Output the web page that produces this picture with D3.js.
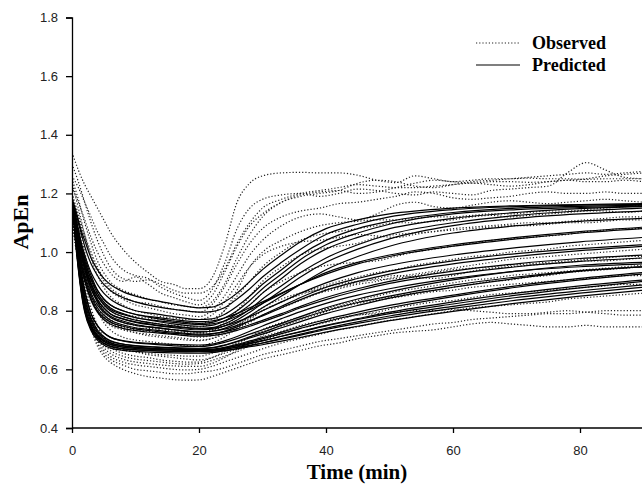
<!DOCTYPE html>
<html><head><meta charset="utf-8">
<script src="https://cdn.jsdelivr.net/npm/d3@7/dist/d3.min.js"></script>
<style>body{margin:0;background:#fff}svg{display:block}</style>
</head><body><svg id="c" width="642" height="485"></svg>
<script>
// ---- data ----
const xTicks = [0, 20, 40, 60, 80];
const yTicks = [0.4, 0.6, 0.8, 1.0, 1.2, 1.4, 1.6, 1.8];
const legendLabels = ["Observed", "Predicted"];

const predTimes = [0,0.5,1,1.5,2,3,4,5,6,8,10,13,16,20,22,24,26,28,30,33,36,40,45,50,60,70,80,90];
const predicted = [
 [1.18,1.15,1.11,1.07,1.04,0.98,0.94,0.91,0.89,0.865,0.85,0.835,0.823,0.81,0.812,0.83,0.86,0.90,0.94,0.99,1.035,1.08,1.11,1.13,1.15,1.158,1.162,1.165],
 [1.18,1.14,1.10,1.06,1.02,0.96,0.92,0.89,0.87,0.845,0.83,0.815,0.805,0.795,0.797,0.81,0.84,0.875,0.915,0.965,1.01,1.06,1.095,1.12,1.145,1.155,1.16,1.162],
 [1.18,1.13,1.08,1.03,0.99,0.93,0.89,0.86,0.84,0.815,0.80,0.79,0.78,0.77,0.772,0.787,0.815,0.85,0.89,0.94,0.99,1.04,1.08,1.105,1.135,1.15,1.156,1.16],
 [1.18,1.13,1.07,1.02,0.98,0.92,0.87,0.84,0.82,0.80,0.787,0.775,0.765,0.757,0.76,0.775,0.80,0.835,0.875,0.925,0.975,1.025,1.065,1.095,1.13,1.145,1.152,1.157],
 [1.18,1.12,1.06,1.01,0.97,0.905,0.86,0.83,0.81,0.79,0.777,0.765,0.755,0.747,0.75,0.765,0.79,0.82,0.86,0.91,0.96,1.01,1.05,1.08,1.115,1.135,1.148,1.155],
 [1.18,1.12,1.05,1.00,0.96,0.895,0.85,0.82,0.80,0.78,0.768,0.757,0.748,0.74,0.742,0.755,0.777,0.805,0.84,0.885,0.93,0.98,1.025,1.06,1.10,1.125,1.14,1.15],
 [1.18,1.11,1.04,0.99,0.95,0.885,0.84,0.81,0.79,0.772,0.76,0.75,0.742,0.735,0.737,0.748,0.768,0.795,0.825,0.87,0.915,0.965,1.01,1.045,1.09,1.115,1.13,1.14],
 [1.18,1.11,1.04,0.985,0.94,0.875,0.83,0.80,0.782,0.765,0.753,0.743,0.735,0.728,0.73,0.74,0.758,0.783,0.81,0.85,0.89,0.94,0.985,1.02,1.065,1.09,1.105,1.115],
 [1.18,1.12,1.06,1.01,0.97,0.91,0.87,0.84,0.82,0.80,0.788,0.778,0.77,0.763,0.765,0.775,0.79,0.81,0.83,0.86,0.89,0.925,0.96,0.985,1.02,1.045,1.065,1.08],
 [1.18,1.11,1.04,0.985,0.94,0.875,0.835,0.81,0.79,0.772,0.762,0.752,0.745,0.738,0.74,0.748,0.762,0.78,0.80,0.83,0.86,0.895,0.93,0.955,0.99,1.015,1.035,1.05],
 [1.18,1.10,1.03,0.97,0.925,0.86,0.82,0.795,0.778,0.76,0.75,0.742,0.735,0.728,0.73,0.737,0.75,0.765,0.782,0.81,0.838,0.87,0.90,0.925,0.96,0.985,1.005,1.02],
 [1.18,1.10,1.02,0.96,0.915,0.85,0.81,0.785,0.768,0.752,0.742,0.734,0.727,0.72,0.722,0.728,0.738,0.752,0.767,0.79,0.815,0.845,0.875,0.90,0.935,0.96,0.978,0.99],
 [1.18,1.09,1.01,0.95,0.905,0.84,0.80,0.777,0.762,0.747,0.738,0.73,0.723,0.717,0.72,0.73,0.745,0.765,0.785,0.815,0.845,0.88,0.91,0.935,0.97,0.995,1.012,1.025],
 [1.18,1.11,1.05,1.00,0.955,0.89,0.85,0.825,0.805,0.787,0.776,0.767,0.76,0.753,0.755,0.765,0.782,0.803,0.825,0.858,0.89,0.93,0.965,0.99,1.025,1.05,1.07,1.085],
 [1.18,1.09,1.01,0.945,0.90,0.835,0.795,0.77,0.755,0.74,0.732,0.725,0.719,0.713,0.715,0.722,0.733,0.747,0.762,0.785,0.81,0.838,0.868,0.893,0.925,0.95,0.968,0.98],
 [1.18,1.10,1.01,0.93,0.87,0.79,0.75,0.725,0.71,0.697,0.69,0.685,0.68,0.678,0.682,0.692,0.705,0.72,0.735,0.757,0.78,0.81,0.84,0.865,0.905,0.935,0.955,0.965],
 [1.18,1.09,0.99,0.91,0.85,0.775,0.735,0.712,0.698,0.686,0.68,0.676,0.672,0.67,0.673,0.682,0.694,0.707,0.72,0.742,0.763,0.79,0.818,0.843,0.88,0.91,0.935,0.95],
 [1.18,1.08,0.97,0.89,0.83,0.76,0.725,0.705,0.692,0.68,0.675,0.671,0.668,0.666,0.668,0.675,0.685,0.697,0.708,0.727,0.746,0.77,0.795,0.818,0.853,0.885,0.91,0.93],
 [1.18,1.07,0.96,0.875,0.815,0.748,0.715,0.697,0.686,0.676,0.671,0.668,0.665,0.663,0.665,0.672,0.682,0.693,0.704,0.722,0.74,0.763,0.788,0.81,0.848,0.88,0.905,0.925],
 [1.18,1.06,0.95,0.865,0.805,0.74,0.708,0.69,0.68,0.671,0.667,0.664,0.661,0.66,0.662,0.668,0.677,0.687,0.697,0.713,0.729,0.75,0.773,0.795,0.83,0.86,0.885,0.905],
 [1.18,1.07,0.965,0.88,0.82,0.752,0.718,0.70,0.69,0.681,0.676,0.672,0.669,0.667,0.668,0.673,0.68,0.689,0.698,0.713,0.728,0.748,0.77,0.79,0.823,0.853,0.878,0.90],
 [1.18,1.05,0.94,0.855,0.795,0.732,0.70,0.683,0.673,0.665,0.661,0.658,0.656,0.655,0.657,0.663,0.671,0.68,0.69,0.705,0.72,0.74,0.762,0.782,0.815,0.845,0.868,0.888],
 [1.18,1.06,0.955,0.87,0.81,0.745,0.712,0.695,0.685,0.676,0.672,0.668,0.666,0.664,0.665,0.669,0.675,0.682,0.69,0.703,0.717,0.736,0.757,0.776,0.808,0.836,0.86,0.88],
 [1.18,1.09,1.00,0.925,0.865,0.79,0.748,0.725,0.71,0.698,0.692,0.688,0.685,0.683,0.686,0.697,0.712,0.73,0.748,0.773,0.797,0.825,0.853,0.875,0.91,0.935,0.95,0.96],
 [1.18,1.05,0.945,0.86,0.80,0.737,0.705,0.688,0.678,0.67,0.666,0.663,0.661,0.66,0.661,0.665,0.67,0.677,0.684,0.696,0.709,0.727,0.747,0.766,0.798,0.826,0.85,0.87],
 [1.18,1.08,0.98,0.90,0.84,0.768,0.73,0.71,0.697,0.686,0.681,0.677,0.674,0.672,0.674,0.683,0.696,0.711,0.726,0.75,0.773,0.80,0.828,0.85,0.887,0.915,0.937,0.95]
];

const obsTimes = [0,1,2,3,4,5,6,8,10,12,14,16,18,20,22,24,26,28,30,33,36,39,42,45,48,51,54,57,60,63,66,69,72,75,78,81,84,87,90];
const observed = [
 [1.34,1.28,1.23,1.19,1.15,1.11,1.07,1.01,0.965,0.93,0.90,0.89,0.875,0.875,0.91,1.02,1.17,1.235,1.26,1.27,1.272,1.27,1.27,1.262,1.245,1.237,1.26,1.25,1.24,1.245,1.25,1.25,1.252,1.25,1.25,1.248,1.25,1.25,1.25],
 [1.26,1.22,1.17,1.12,1.07,1.03,0.99,0.94,0.92,0.91,0.88,0.86,0.845,0.835,0.87,0.96,1.08,1.15,1.18,1.195,1.20,1.19,1.20,1.215,1.21,1.20,1.195,1.205,1.20,1.195,1.21,1.215,1.22,1.225,1.27,1.305,1.28,1.255,1.25],
 [1.22,1.17,1.11,1.05,1.00,0.96,0.93,0.90,0.915,0.89,0.86,0.845,0.83,0.82,0.85,0.93,1.02,1.09,1.13,1.17,1.19,1.20,1.21,1.235,1.245,1.24,1.225,1.22,1.23,1.24,1.245,1.25,1.255,1.26,1.265,1.27,1.265,1.27,1.275],
 [1.20,1.13,1.06,1.00,0.95,0.91,0.88,0.85,0.83,0.825,0.815,0.805,0.80,0.795,0.82,0.88,0.96,1.03,1.08,1.12,1.14,1.15,1.165,1.17,1.18,1.19,1.205,1.20,1.185,1.18,1.185,1.19,1.20,1.205,1.20,1.20,1.205,1.20,1.20],
 [1.19,1.12,1.05,0.99,0.94,0.90,0.87,0.84,0.82,0.81,0.80,0.79,0.785,0.78,0.80,0.85,0.92,0.99,1.04,1.09,1.12,1.13,1.12,1.11,1.13,1.16,1.17,1.155,1.15,1.16,1.17,1.175,1.17,1.165,1.17,1.175,1.18,1.175,1.17],
 [1.25,1.18,1.10,1.03,0.97,0.93,0.90,0.87,0.855,0.84,0.83,0.82,0.815,0.81,0.83,0.89,0.98,1.06,1.12,1.17,1.195,1.205,1.21,1.20,1.205,1.22,1.235,1.245,1.24,1.235,1.24,1.24,1.238,1.24,1.245,1.24,1.24,1.245,1.24],
 [1.17,1.07,0.98,0.91,0.86,0.83,0.81,0.79,0.78,0.775,0.77,0.765,0.76,0.755,0.77,0.80,0.85,0.90,0.95,1.00,1.04,1.06,1.07,1.08,1.09,1.10,1.10,1.105,1.11,1.12,1.125,1.12,1.125,1.13,1.135,1.14,1.14,1.135,1.14],
 [1.16,1.05,0.96,0.89,0.84,0.80,0.78,0.76,0.75,0.745,0.74,0.735,0.73,0.725,0.735,0.76,0.80,0.85,0.90,0.95,0.99,1.01,1.02,1.03,1.05,1.06,1.065,1.07,1.08,1.085,1.09,1.095,1.10,1.10,1.105,1.11,1.115,1.12,1.12],
 [1.15,1.04,0.95,0.88,0.83,0.79,0.77,0.75,0.74,0.74,0.735,0.73,0.725,0.72,0.73,0.75,0.78,0.82,0.86,0.90,0.93,0.95,0.96,0.965,0.97,0.985,1.00,1.01,1.02,1.03,1.04,1.045,1.05,1.055,1.06,1.07,1.075,1.08,1.08],
 [1.14,1.02,0.93,0.86,0.81,0.78,0.76,0.745,0.735,0.73,0.725,0.72,0.715,0.71,0.715,0.73,0.75,0.775,0.80,0.83,0.86,0.88,0.90,0.915,0.93,0.94,0.955,0.965,0.975,0.985,0.99,1.00,1.005,1.01,1.02,1.025,1.03,1.035,1.04],
 [1.13,1.01,0.92,0.85,0.80,0.77,0.75,0.735,0.725,0.72,0.715,0.71,0.705,0.70,0.705,0.72,0.74,0.76,0.785,0.81,0.835,0.86,0.875,0.89,0.90,0.915,0.925,0.935,0.945,0.955,0.965,0.975,0.98,0.985,0.99,0.995,1.00,1.005,1.01],
 [1.12,0.98,0.87,0.79,0.73,0.70,0.68,0.665,0.66,0.655,0.65,0.648,0.645,0.645,0.655,0.67,0.69,0.71,0.73,0.755,0.78,0.80,0.815,0.83,0.84,0.85,0.86,0.87,0.88,0.89,0.90,0.905,0.915,0.92,0.93,0.935,0.94,0.945,0.95],
 [1.13,0.99,0.87,0.78,0.72,0.685,0.665,0.645,0.635,0.63,0.625,0.62,0.618,0.62,0.63,0.645,0.66,0.68,0.70,0.72,0.74,0.755,0.77,0.785,0.795,0.81,0.82,0.83,0.835,0.845,0.855,0.86,0.865,0.87,0.875,0.88,0.885,0.89,0.89],
 [1.12,0.97,0.85,0.76,0.70,0.665,0.645,0.625,0.615,0.61,0.605,0.60,0.598,0.60,0.61,0.625,0.64,0.655,0.67,0.69,0.705,0.72,0.735,0.745,0.76,0.77,0.78,0.79,0.80,0.81,0.815,0.82,0.825,0.83,0.84,0.845,0.85,0.855,0.86],
 [1.11,0.96,0.84,0.75,0.69,0.655,0.635,0.615,0.60,0.595,0.59,0.585,0.585,0.59,0.595,0.605,0.62,0.635,0.65,0.665,0.68,0.695,0.705,0.715,0.725,0.735,0.745,0.755,0.76,0.77,0.775,0.78,0.785,0.79,0.79,0.795,0.80,0.80,0.80],
 [1.12,0.97,0.84,0.74,0.68,0.645,0.625,0.60,0.585,0.575,0.57,0.565,0.563,0.564,0.575,0.59,0.605,0.62,0.635,0.65,0.665,0.68,0.69,0.705,0.715,0.725,0.73,0.735,0.745,0.755,0.76,0.755,0.75,0.745,0.745,0.75,0.745,0.745,0.745],
 [1.14,1.00,0.88,0.79,0.73,0.695,0.675,0.655,0.645,0.64,0.632,0.628,0.625,0.625,0.64,0.66,0.685,0.71,0.735,0.76,0.78,0.80,0.82,0.835,0.85,0.865,0.875,0.885,0.895,0.905,0.91,0.92,0.925,0.93,0.935,0.94,0.945,0.95,0.955],
 [1.15,1.02,0.90,0.81,0.75,0.71,0.69,0.67,0.66,0.65,0.645,0.64,0.635,0.632,0.64,0.655,0.67,0.69,0.71,0.73,0.75,0.765,0.775,0.785,0.79,0.795,0.80,0.80,0.805,0.80,0.795,0.79,0.79,0.795,0.80,0.795,0.79,0.785,0.785],
 [1.16,1.04,0.94,0.86,0.80,0.76,0.735,0.71,0.70,0.695,0.69,0.685,0.68,0.68,0.69,0.71,0.74,0.77,0.80,0.83,0.855,0.875,0.89,0.90,0.905,0.91,0.92,0.93,0.94,0.945,0.95,0.955,0.96,0.965,0.97,0.975,0.98,0.985,0.985],
 [1.18,1.10,1.00,0.92,0.86,0.82,0.80,0.78,0.77,0.76,0.755,0.75,0.748,0.745,0.76,0.80,0.87,0.95,1.00,1.04,1.07,1.09,1.10,1.105,1.11,1.11,1.115,1.12,1.12,1.125,1.13,1.13,1.135,1.14,1.14,1.145,1.15,1.155,1.16],
 [1.20,1.08,0.97,0.89,0.83,0.79,0.765,0.74,0.725,0.715,0.71,0.705,0.70,0.698,0.705,0.725,0.75,0.78,0.81,0.84,0.86,0.87,0.88,0.895,0.91,0.92,0.915,0.91,0.92,0.935,0.945,0.95,0.955,0.96,0.965,0.97,0.97,0.975,0.98],
 [1.24,1.15,1.06,0.98,0.92,0.88,0.85,0.82,0.80,0.79,0.78,0.775,0.77,0.77,0.785,0.83,0.89,0.95,0.99,1.02,1.035,1.04,1.05,1.06,1.055,1.05,1.06,1.07,1.075,1.08,1.085,1.09,1.09,1.095,1.10,1.10,1.105,1.11,1.11],
 [1.10,0.96,0.85,0.77,0.71,0.675,0.655,0.635,0.625,0.62,0.615,0.612,0.61,0.61,0.62,0.64,0.665,0.69,0.715,0.745,0.77,0.79,0.81,0.825,0.835,0.845,0.855,0.865,0.87,0.88,0.885,0.89,0.895,0.90,0.905,0.91,0.915,0.92,0.92],
 [1.30,1.24,1.17,1.10,1.04,0.99,0.95,0.91,0.90,0.905,0.89,0.87,0.86,0.86,0.88,0.94,1.03,1.10,1.15,1.18,1.20,1.21,1.22,1.23,1.225,1.22,1.22,1.225,1.23,1.235,1.23,1.225,1.23,1.24,1.245,1.25,1.26,1.265,1.27]
];

// ---- chart ----
const svg = d3.select("#c");
const x = d3.scaleLinear().domain([0, 90]).range([72, 643.5]);
const y = d3.scaleLinear().domain([0.4, 1.8]).range([428, 17.5]);

svg.append("defs").append("clipPath").attr("id", "clip")
  .append("rect").attr("x", 72).attr("y", 10).attr("width", 572).attr("height", 418);

const plot = svg.append("g").attr("clip-path", "url(#clip)");
const lineObs = d3.line().x((d, i) => x(obsTimes[i])).y(d => y(d)).curve(d3.curveMonotoneX);
const linePred = d3.line().x((d, i) => x(predTimes[i])).y(d => y(d)).curve(d3.curveMonotoneX);

plot.selectAll("path.obs").data(observed).enter().append("path")
  .attr("class", "obs").attr("d", lineObs)
  .attr("fill", "none").attr("stroke", "#222").attr("stroke-width", 1.2)
  .attr("stroke-dasharray", "1.2,2");

plot.selectAll("path.pred").data(predicted).enter().append("path")
  .attr("class", "pred").attr("d", linePred)
  .attr("fill", "none").attr("stroke", "#000").attr("stroke-width", 1.2);

const xAxis = svg.append("g").attr("transform", "translate(0,428)")
  .call(d3.axisBottom(x).tickValues(xTicks).tickSize(5).tickPadding(13).tickFormat(d3.format("d")));
const yAxis = svg.append("g").attr("transform", "translate(72,0)")
  .call(d3.axisLeft(y).tickValues(yTicks).tickSize(6).tickPadding(8).tickFormat(d3.format(".1f")));
[xAxis, yAxis].forEach(a => {
  a.select(".domain").attr("stroke", "#000").attr("stroke-width", 1.3);
  a.selectAll(".tick line").attr("stroke", "#000").attr("stroke-width", 1.3);
  a.selectAll("text").attr("font-family", "'Liberation Sans', Arial, sans-serif")
    .attr("font-size", 13).attr("fill", "#222");
});
xAxis.select(".domain").attr("d", "M72,0H642");

svg.append("text").attr("x", 357).attr("y", 479).attr("text-anchor", "middle")
  .attr("font-family", "'Liberation Serif', 'Times New Roman', serif").attr("font-weight", "bold")
  .attr("font-size", 21).text("Time (min)");
svg.append("text").attr("transform", "translate(28,222) rotate(-90)").attr("text-anchor", "middle")
  .attr("font-family", "'Liberation Serif', 'Times New Roman', serif").attr("font-weight", "bold")
  .attr("font-size", 22).text("ApEn");

// legend
const lg = svg.append("g");
legendLabels.forEach((lab, i) => {
  const yy = 43 + i * 22;
  lg.append("line").attr("x1", 476).attr("x2", 520).attr("y1", yy).attr("y2", yy)
    .attr("stroke", i === 0 ? "#222" : "#000").attr("stroke-width", 1.2)
    .attr("stroke-dasharray", i === 0 ? "1.2,2" : null);
  lg.append("text").attr("x", 532).attr("y", yy + 6)
    .attr("font-family", "'Liberation Serif', 'Times New Roman', serif").attr("font-weight", "bold")
    .attr("font-size", 18).text(lab);
});
</script></body></html>
